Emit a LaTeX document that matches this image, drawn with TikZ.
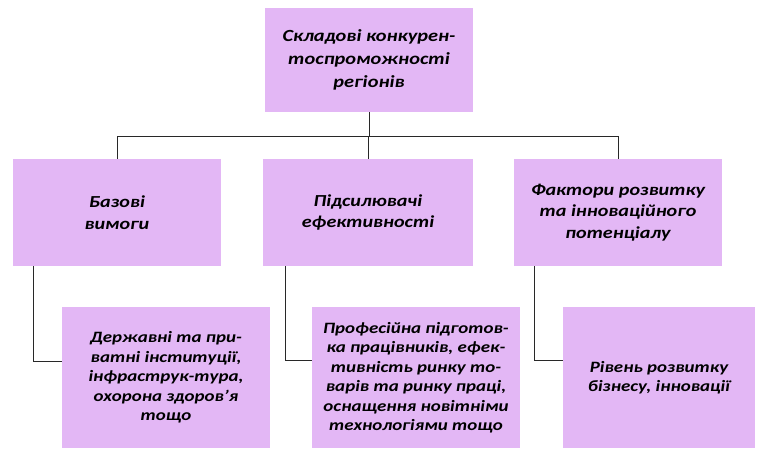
\documentclass[tikz,border=0pt]{standalone}
\usepackage{fontspec}
\setmainfont{Carlito}[FakeStretch=1.2]
\usetikzlibrary{calc}
\definecolor{boxfill}{RGB}{227,183,245}
\definecolor{linecol}{RGB}{40,40,40}
\tikzset{
  box/.style={fill=boxfill, draw=none, align=center, inner sep=0pt, font=\fontsize{16.8}{21.5}\selectfont\bfseries\itshape},
  topbox/.style={box, font=\fontsize{17}{23}\selectfont\bfseries\itshape},
  smallbox/.style={box, font=\fontsize{15.8}{19.5}\selectfont\bfseries\itshape},
  conn/.style={draw=linecol, line width=0.9pt}
}
\begin{document}
\begin{tikzpicture}[x=1pt,y=1pt]
\useasboundingbox (0,0) rectangle (758,448);
\node[topbox, minimum width=208pt, minimum height=104pt] (top) at (369,388) {Складові конкурен-\\тоспроможності\\регіонів};
\node[box, minimum width=208pt, minimum height=107pt] (b1) at (117,235.5) {Базові\\вимоги};
\node[box, minimum width=210pt, minimum height=107pt] (b2) at (368,235.5) {Підсилювачі\\ефективності};
\node[box, minimum width=208pt, minimum height=107pt] (b3) at (618,235.5) {Фактори розвитку\\та інноваційного\\потенціалу};
\node[smallbox, minimum width=208pt, minimum height=141pt] (c1) at (166,70.5) {Державні та при-\\ватні інституції,\\інфраструк-тура,\\охорона здоров’я\\тощо};
\node[smallbox, minimum width=208pt, minimum height=141pt] (c2) at (416,70.5) {Професійна підготов-\\ка працівників, ефек-\\тивність ринку то-\\варів та ринку праці,\\оснащення новітніми\\технологіями тощо};
\node[smallbox, minimum width=192pt, minimum height=141pt] (c3) at (659,70.5) {Рівень розвитку\\бізнесу, інновації};
\coordinate (hub) at (top.south |- 0,312);
\draw[conn] (top.south) -- (hub);
\draw[conn] (b1.north) |- (hub);
\draw[conn] (b3.north) |- (hub);
\draw[conn] (b2.north) -- (b2.north |- hub);
\coordinate (e1) at ($(c1.north west)+(0,-55)$);
\coordinate (e2) at ($(c2.north west)+(0,-54)$);
\coordinate (e3) at ($(c3.north west)+(0,-54)$);
\draw[conn] ($(b1.south west)+(21,0)$) |- (e1);
\draw[conn] ($(b2.south west)+(23,0)$) |- (e2);
\draw[conn] ($(b3.south west)+(21,0)$) |- (e3);
\end{tikzpicture}
\end{document}
